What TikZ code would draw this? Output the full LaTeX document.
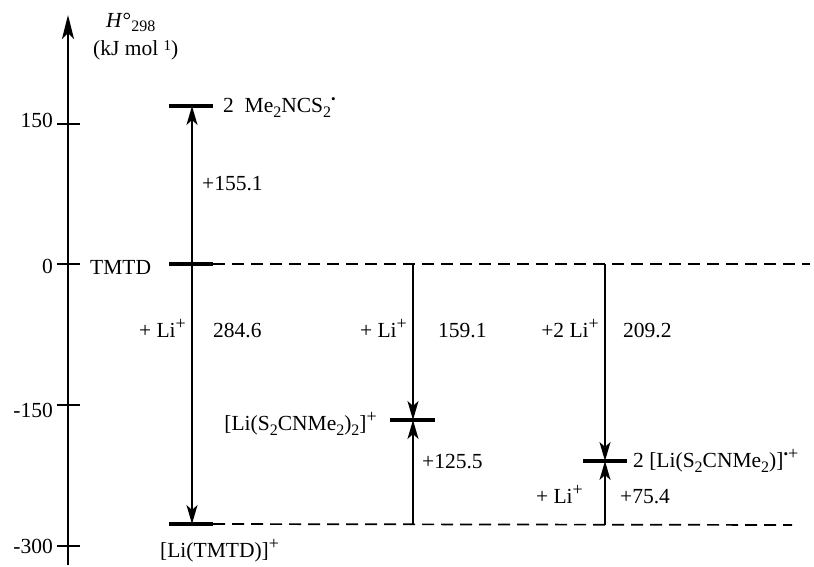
\documentclass[tikz,border=0pt]{standalone}
\usepackage{fontspec}
\setmainfont{Liberation Serif}
\usetikzlibrary{arrows.meta}
\newcommand\mysup[1]{\raisebox{7.5pt}{\fontsize{18}{20}\selectfont #1}}
\newcommand\mysub[1]{\raisebox{-5pt}{\fontsize{16}{18}\selectfont #1}}
\newcommand\mydot{\raisebox{9pt}{\fontsize{13}{15}\selectfont •}}
\begin{document}
\begin{tikzpicture}[x=1pt,y=-1pt,
  every node/.style={inner sep=0pt,font=\fontsize{21.5}{26}\selectfont},
  lbl/.style={anchor=base west},
  rlbl/.style={anchor=base east},
  level/.style={line width=4.5pt},
  conn/.style={line width=1.8pt,-{Stealth[length=19pt,width=11pt,inset=5pt]}},
  dashline/.style={line width=1.7pt,dash pattern=on 12pt off 7pt},
  axisline/.style={line width=1.9pt,-{Stealth[length=24pt,width=12pt,inset=6pt]}},
  tick/.style={line width=1.7pt}]
\useasboundingbox (0,0) rectangle (814,567);
% axis
\coordinate (axb) at (68,565);
\coordinate (axt) at (68,15);
\draw[axisline] (axb) -- (axt);
\foreach \yy/\lab/\bl/\nm in {124/150/128/ta,264/0/273/tb,405/-150/417/tc,546/-300/553/td}{
  \coordinate (\nm L) at (57,\yy);
  \coordinate (\nm R) at (80,\yy);
  \draw[tick] (\nm L) -- (\nm R);
  \node[rlbl] (\nm lab) at (53,\bl) {\lab};
}
\node[lbl] (hlab) at (106,28) {\textit{H}°\raisebox{-4pt}{\fontsize{16}{18}\selectfont 298}};
\node[lbl] (ulab) at (93,56) {(kJ mol \raisebox{5pt}{\fontsize{15}{18}\selectfont 1})};
% levels
\coordinate (radL) at (169,106); \coordinate (radR) at (213,106); \coordinate (radA) at (192,106);
\coordinate (tmL) at (169,264); \coordinate (tmR) at (213,264); \coordinate (tmA) at (192,264);
\coordinate (liL) at (169,524); \coordinate (liR) at (213,524); \coordinate (liA) at (192,524);
\coordinate (bisL) at (390,420); \coordinate (bisR) at (435,420); \coordinate (bisA) at (413,420);
\coordinate (monL) at (583,461); \coordinate (monR) at (627,461); \coordinate (monA) at (605,461);
\coordinate (topE) at (810,264); \coordinate (botE) at (792,525);
\coordinate (tm2) at (413,264); \coordinate (tm3) at (605,264);
\coordinate (li2) at (413,525); \coordinate (li3) at (605,525);
\draw[dashline] (tmR) -- (topE);
\draw[dashline] (liR) -- (botE);
\draw[level] (radL) -- (radR);
\draw[level] (tmL) -- (tmR);
\draw[level] (liL) -- (liR);
\draw[level] (bisL) -- (bisR);
\draw[level] (monL) -- (monR);
% connectors
\draw[conn] (tmA) -- (radA);
\draw[conn] (tmA) -- (liA);
\draw[conn] (tm2) -- (bisA);
\draw[conn] (li2) -- (bisA);
\draw[conn] (tm3) -- (monA);
\draw[conn] (li3) -- (monA);
% labels
\node[lbl] (radlab) at (223,113) {2\ \ Me\mysub{2}NCS\mysub{2}\mydot};
\node[lbl] (e1) at (202,190) {+155.1};
\node[lbl] (tmlab) at (90,274) {TMTD};
\node[rlbl] (li1) at (186,337) {+ Li\mysup{+}};
\node[lbl] (e2) at (213,337) {284.6};
\node[rlbl] (li2lab) at (407,337) {+ Li\mysup{+}};
\node[lbl] (e3) at (438,337) {159.1};
\node[rlbl] (li3lab) at (599,337) {+2 Li\mysup{+}};
\node[lbl] (e4) at (623,337) {209.2};
\node[rlbl] (bislab) at (377,430) {[Li(S\mysub{2}CNMe\mysub{2})\mysub{2}]\mysup{+}};
\node[lbl] (e5) at (422,468) {+125.5};
\node[lbl] (monlab) at (633,467) {2 [Li(S\mysub{2}CNMe\mysub{2})]\mydot\mysup{+}};
\node[rlbl] (li4) at (583,503) {+ Li\mysup{+}};
\node[lbl] (e6) at (620,503) {+75.4};
\node[lbl] (lilab) at (160,557) {[Li(TMTD)]\mysup{+}};
\end{tikzpicture}
\end{document}
